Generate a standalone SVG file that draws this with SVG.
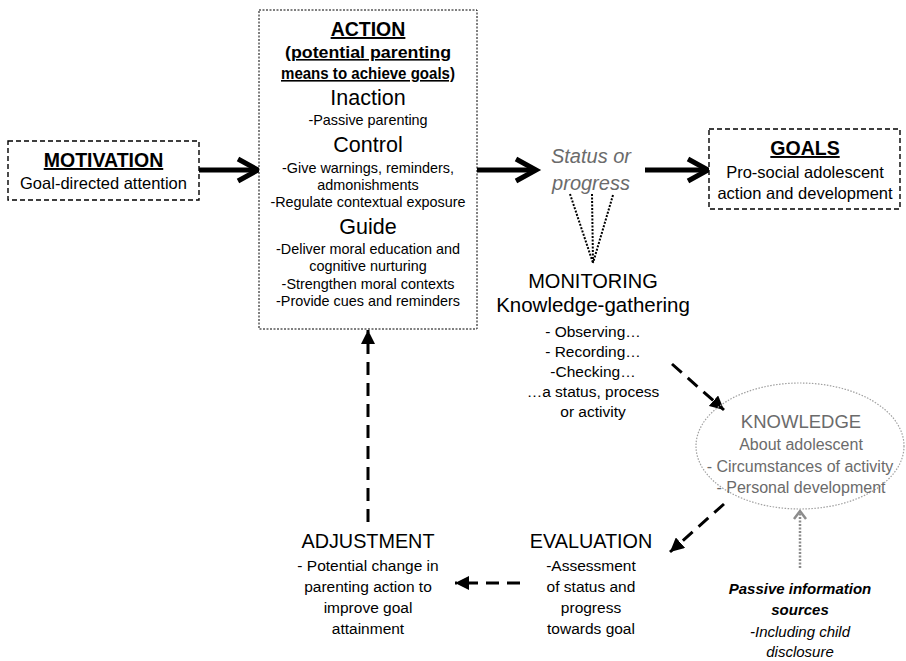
<svg xmlns="http://www.w3.org/2000/svg" width="906" height="661" viewBox="0 0 906 661">
<style>
text{font-family:"Liberation Sans",Arial,sans-serif;text-anchor:middle;fill:#000}
.h{font-size:19.5px;font-weight:bold;text-decoration:underline}
.bu{font-size:16px;font-weight:bold;text-decoration:underline}
.sub{font-size:21.5px}
.sm{font-size:14.4px}
.body{font-size:16.5px}
.cap{font-size:19.8px}
.mid{font-size:15.5px}
.grey{fill:#6b6b6b}
.box{fill:#fff;stroke:#000;stroke-width:1.4;stroke-dasharray:5 3}
.dotbox{fill:#fff;stroke:#000;stroke-width:1;stroke-dasharray:2 1.5}
.thick{stroke:#000;stroke-width:5;fill:none}
.chev{stroke:#000;stroke-width:5;fill:none;stroke-linejoin:miter;stroke-linecap:butt}
.dash{stroke:#000;stroke-width:3;fill:none;stroke-dasharray:13 8}
.fan{stroke:#000;stroke-width:2;fill:none;stroke-dasharray:2 1.5}
</style>
<defs>
<marker id="tri" markerUnits="userSpaceOnUse" markerWidth="16" markerHeight="14" refX="14" refY="7" orient="auto">
<path d="M0,0 L14,7 L0,14 Z" fill="#000"/>
</marker>
</defs>

<g id="connectors">
<line class="thick" x1="199" y1="170" x2="255" y2="170"/>
<polyline class="chev" points="238,159 258,170 238,181"/>
<line class="thick" x1="477" y1="170" x2="534" y2="170"/>
<polyline class="chev" points="516,159 536,170 516,181"/>
<line class="thick" x1="645" y1="170" x2="705" y2="170"/>
<polyline class="chev" points="688,159 708,170 688,181"/>
<line class="fan" x1="570" y1="194" x2="593" y2="263"/>
<line class="fan" x1="592" y1="194" x2="593" y2="263"/>
<line class="fan" x1="613" y1="195" x2="593" y2="263"/>
<line class="dash" x1="672" y1="364" x2="724" y2="410" marker-end="url(#tri)"/>
<line class="dash" x1="724" y1="504" x2="670" y2="552" marker-end="url(#tri)"/>
<line class="dash" x1="520" y1="583" x2="455" y2="583" marker-end="url(#tri)"/>
<line class="dash" x1="368" y1="522" x2="368" y2="330" marker-end="url(#tri)"/>
<line stroke="#8c8c8c" stroke-width="2.5" stroke-dasharray="2 1.5" x1="800" y1="568" x2="800" y2="513"/>
<polyline fill="none" stroke="#8c8c8c" stroke-width="2.5" points="794,519 800,511 806,519"/>
</g>

<g id="motivation">
<rect class="box" x="8" y="141" width="191" height="59"/>
<text class="h" x="103.5" y="167">MOTIVATION</text>
<text class="body" x="103.5" y="189">Goal-directed attention</text>
</g>

<g id="action">
<rect class="dotbox" x="259" y="10" width="218" height="319"/>
<text class="h" x="368" y="36">ACTION</text>
<text class="bu" x="368" y="58" textLength="166" lengthAdjust="spacingAndGlyphs">(potential parenting</text>
<text class="bu" x="368" y="79" textLength="174" lengthAdjust="spacingAndGlyphs">means to achieve goals)</text>
<text class="sub" x="368" y="105">Inaction</text>
<text class="sm" x="368" y="125">-Passive parenting</text>
<text class="sub" x="368" y="152">Control</text>
<text class="sm" x="368" y="173">-Give warnings, reminders,</text>
<text class="sm" x="368" y="190">admonishments</text>
<text class="sm" x="368" y="207">-Regulate contextual exposure</text>
<text class="sub" x="368" y="234">Guide</text>
<text class="sm" x="368" y="254">-Deliver moral education and</text>
<text class="sm" x="368" y="271">cognitive nurturing</text>
<text class="sm" x="368" y="289">-Strengthen moral contexts</text>
<text class="sm" x="368" y="306">-Provide cues and reminders</text>
</g>

<g id="status">
<text class="grey" x="591" y="163" font-size="20" font-style="italic">Status or</text>
<text class="grey" x="591" y="190" font-size="20" font-style="italic">progress</text>
</g>

<g id="goals">
<rect class="box" x="709" y="129" width="191" height="80"/>
<text class="h" x="805" y="155">GOALS</text>
<text class="body" x="805" y="178">Pro-social adolescent</text>
<text class="body" x="805" y="199">action and development</text>
</g>

<g id="monitoring">
<text x="593" y="288" font-size="20">MONITORING</text>
<text x="593" y="312" font-size="20.5">Knowledge-gathering</text>
<text class="mid" x="593" y="337">- Observing…</text>
<text class="mid" x="593" y="357">- Recording…</text>
<text class="mid" x="593" y="377">-Checking…</text>
<text class="mid" x="593" y="397">…a status, process</text>
<text class="mid" x="593" y="417">or activity</text>
</g>

<g id="knowledge">
<ellipse cx="800" cy="446" rx="104" ry="63" fill="none" stroke="#a0a0a0" stroke-width="1.2" stroke-dasharray="1.5 1.5"/>
<text class="grey" x="801" y="428" font-size="18.5">KNOWLEDGE</text>
<text class="grey" x="801" y="450" font-size="16">About adolescent</text>
<text class="grey" x="800" y="472" font-size="16">- Circumstances of activity</text>
<text class="grey" x="801" y="493" font-size="16">- Personal development</text>
</g>

<g id="evaluation">
<text class="cap" x="591" y="548">EVALUATION</text>
<text x="591" y="571" font-size="15.5">-Assessment</text>
<text x="591" y="592" font-size="15.5">of status and</text>
<text x="591" y="613" font-size="15.5">progress</text>
<text x="591" y="634" font-size="15.5">towards goal</text>
</g>

<g id="adjustment">
<text class="cap" x="368" y="548" font-size="19">ADJUSTMENT</text>
<text x="368" y="571" font-size="15.5">- Potential change in</text>
<text x="368" y="592" font-size="15.5">parenting action to</text>
<text x="368" y="613" font-size="15.5">improve goal</text>
<text x="368" y="634" font-size="15.5">attainment</text>
</g>

<g id="passive">
<text x="800" y="594" font-size="15" font-weight="bold" font-style="italic" fill="#555">Passive information</text>
<text x="800" y="615" font-size="15" font-weight="bold" font-style="italic" fill="#555">sources</text>
<text x="800" y="637" font-size="15" font-style="italic" fill="#555">-Including child</text>
<text x="800" y="657" font-size="15" font-style="italic" fill="#555">disclosure</text>
</g>
</svg>
